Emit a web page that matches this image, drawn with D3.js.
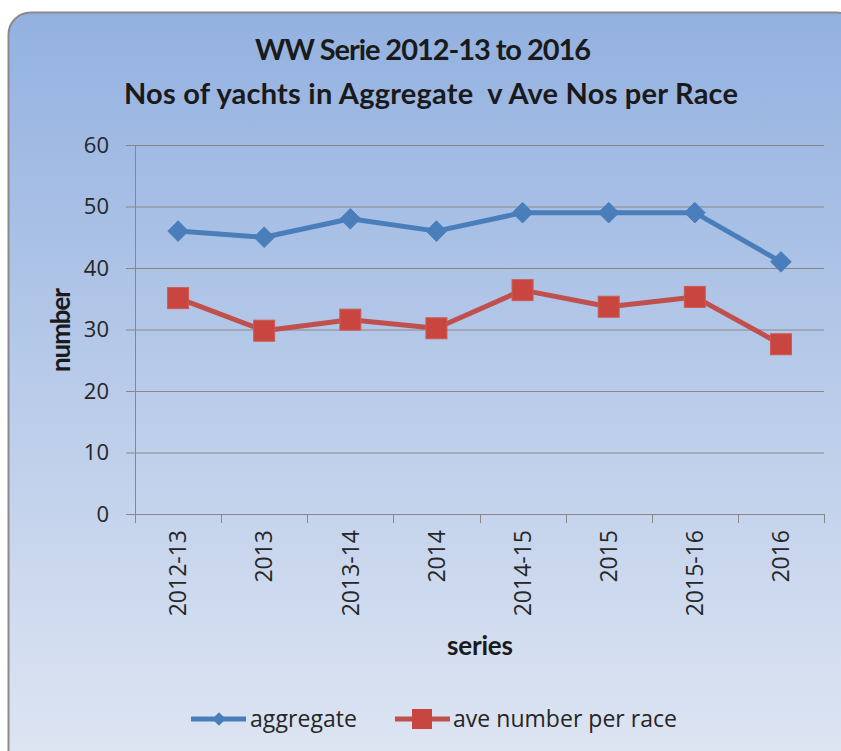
<!DOCTYPE html>
<html>
<head>
<meta charset="utf-8">
<script src="https://cdn.jsdelivr.net/npm/d3@7"></script>
<style>
  body { margin: 0; background: #fff; }
  svg { display: block; }
</style>
</head>
<body>
<div id="chart"></div>
<script>
// chart data
var categories = ["2012-13", "2013", "2013-14", "2014", "2014-15", "2015", "2015-16", "2016"];
var aggregate = [46, 45, 48, 46, 49, 49, 49, 41];
var avePerRace = [35.1, 29.8, 31.6, 30.2, 36.4, 33.7, 35.3, 27.6];
var yTicks = [0, 10, 20, 30, 40, 50, 60];

var width = 841,
    height = 751,
    margin = {top: 145, right: 17, bottom: 237, left: 135};

var svg = d3.select("#chart").append("svg")
  .attr("width", width)
  .attr("height", height);

// background panel with gradient
var defs = svg.append("defs");
var grad = defs.append("linearGradient")
  .attr("id", "bg")
  .attr("x1", 0).attr("y1", 0).attr("x2", 0).attr("y2", 1);
grad.append("stop").attr("offset", "0%").attr("stop-color", "#93b1e0");
grad.append("stop").attr("offset", "100%").attr("stop-color", "#dfe6f3");

svg.append("rect")
  .attr("x", 8.5).attr("y", 12.5)
  .attr("width", 850).attr("height", 760)
  .attr("rx", 22).attr("ry", 22)
  .style("fill", "url(#bg)")
  .style("stroke", "#8a8a8a")
  .style("stroke-width", 2);

var plotW = width - margin.left - margin.right,
    plotH = height - margin.top - margin.bottom;

var g = svg.append("g")
  .attr("transform", "translate(" + margin.left + "," + margin.top + ")");

var x = d3.scaleBand()
  .domain(categories)
  .range([0, plotW]);

var y = d3.scaleLinear()
  .domain([0, 60])
  .range([plotH, 0]);

// horizontal gridlines (with tick stubs left of axis)
g.selectAll(".grid")
  .data(yTicks)
  .enter()
  .append("line")
  .attr("x1", -9)
  .attr("x2", plotW)
  .attr("y1", function(d){ return y(d) + 0.5; })
  .attr("y2", function(d){ return y(d) + 0.5; })
  .style("stroke", "#878787")
  .style("stroke-width", 1);

// y axis line
g.append("line")
  .attr("x1", 0.5).attr("x2", 0.5)
  .attr("y1", 0).attr("y2", plotH)
  .style("stroke", "#878787");

// y tick labels
g.selectAll(".ylab")
  .data(yTicks)
  .enter()
  .append("text")
  .attr("x", -26)
  .attr("y", function(d){ return y(d); })
  .attr("dy", "0.36em")
  .attr("text-anchor", "end")
  .style("font", "22px 'Open Sans', sans-serif")
  .style("fill", "#262626")
  .text(function(d){ return d; });

// x axis with ticks between categories
var xAxis = d3.axisBottom(x).tickSize(0).tickFormat("");
g.append("g")
  .attr("transform", "translate(0," + plotH + ")")
  .call(xAxis)
  .call(function(s){ s.select(".domain").style("stroke", "#878787"); });

var bounds = categories.map(function(c){ return x(c); }).concat([plotW]);
g.selectAll(".xtick")
  .data(bounds)
  .enter()
  .append("line")
  .attr("x1", function(d){ return Math.round(d) + 0.5; })
  .attr("x2", function(d){ return Math.round(d) + 0.5; })
  .attr("y1", plotH)
  .attr("y2", plotH + 9)
  .style("stroke", "#878787");

// x tick labels rotated
g.selectAll(".xlab")
  .data(categories)
  .enter()
  .append("text")
  .attr("transform", function(d){
    return "translate(" + (x(d) + x.bandwidth() / 2) + "," + (plotH + 16) + ") rotate(-90)";
  })
  .attr("dy", "0.36em")
  .attr("text-anchor", "end")
  .style("font", "23px 'Open Sans', sans-serif")
  .style("fill", "#262626")
  .text(function(d){ return d; });

// lines
var line = d3.line()
  .x(function(d, i){ return x(categories[i]) + x.bandwidth() / 2; })
  .y(function(d){ return y(d); });

g.append("path")
  .datum(aggregate)
  .attr("d", line)
  .style("fill", "none")
  .style("stroke", "#4a7ebb")
  .style("stroke-width", 5)
  .style("stroke-linejoin", "round");

g.append("path")
  .datum(avePerRace)
  .attr("d", line)
  .style("fill", "none")
  .style("stroke", "#c0504d")
  .style("stroke-width", 5)
  .style("stroke-linejoin", "round");

// markers
var diamond = d3.symbol().type(d3.symbolDiamond2).size(270);

g.selectAll(".agg")
  .data(aggregate)
  .enter()
  .append("path")
  .attr("d", diamond)
  .attr("transform", function(d, i){
    return "translate(" + (x(categories[i]) + x.bandwidth() / 2) + "," + y(d) + ")";
  })
  .style("fill", "#4a7ebb")
  .style("stroke", "#4a7ebb")
  .style("stroke-width", 1);

g.selectAll(".ave")
  .data(avePerRace)
  .enter()
  .append("rect")
  .attr("x", function(d, i){ return x(categories[i]) + x.bandwidth() / 2 - 10.5; })
  .attr("y", function(d){ return y(d) - 10.5; })
  .attr("width", 21)
  .attr("height", 21)
  .style("fill", "#c8463f")
  .style("stroke", "#d05a52")
  .style("stroke-width", 1);

// title
var titleFont = "bold 29px Lato, 'Open Sans', sans-serif";
svg.append("text")
  .attr("x", 423).attr("y", 60)
  .attr("text-anchor", "middle")
  .attr("textLength", 336)
  .style("font", titleFont)
  .style("fill", "#1a1a1a")
  .text("WW Serie 2012-13 to 2016");
svg.append("text")
  .attr("x", 431).attr("y", 104)
  .attr("text-anchor", "middle")
  .attr("textLength", 614)
  .attr("xml:space", "preserve")
  .style("font", titleFont)
  .style("fill", "#1a1a1a")
  .text("Nos of yachts in Aggregate  v Ave Nos per Race");

// axis titles
svg.append("text")
  .attr("x", 480)
  .attr("y", 655)
  .attr("text-anchor", "middle")
  .attr("textLength", 66)
  .style("font", "bold 26px Lato, 'Open Sans', sans-serif")
  .style("fill", "#1a1a1a")
  .text("series");

svg.append("text")
  .attr("transform", "translate(70,330) rotate(-90)")
  .attr("text-anchor", "middle")
  .attr("textLength", 84)
  .style("font", "bold 26px Lato, 'Open Sans', sans-serif")
  .style("fill", "#1a1a1a")
  .text("number");

// legend
var legend = svg.append("g").attr("transform", "translate(0,719)");

legend.append("line")
  .attr("x1", 191).attr("x2", 246).attr("y1", 0).attr("y2", 0)
  .style("stroke", "#4a7ebb").style("stroke-width", 5);
legend.append("path")
  .attr("d", d3.symbol().type(d3.symbolDiamond2).size(120))
  .attr("transform", "translate(219,0)")
  .style("fill", "#4a7ebb");
legend.append("text")
  .attr("x", 250).attr("y", 0).attr("dy", "0.36em")
  .attr("textLength", 107)
  .style("font", "23px 'Open Sans', sans-serif")
  .style("fill", "#262626")
  .text("aggregate");

legend.append("line")
  .attr("x1", 395).attr("x2", 450).attr("y1", 0).attr("y2", 0)
  .style("stroke", "#c0504d").style("stroke-width", 5);
legend.append("rect")
  .attr("x", 412).attr("y", -10).attr("width", 20).attr("height", 20)
  .style("fill", "#c8463f");
legend.append("text")
  .attr("x", 453).attr("y", 0).attr("dy", "0.36em")
  .attr("textLength", 224)
  .style("font", "23px 'Open Sans', sans-serif")
  .style("fill", "#262626")
  .text("ave number per race");
</script>
</body>
</html>
